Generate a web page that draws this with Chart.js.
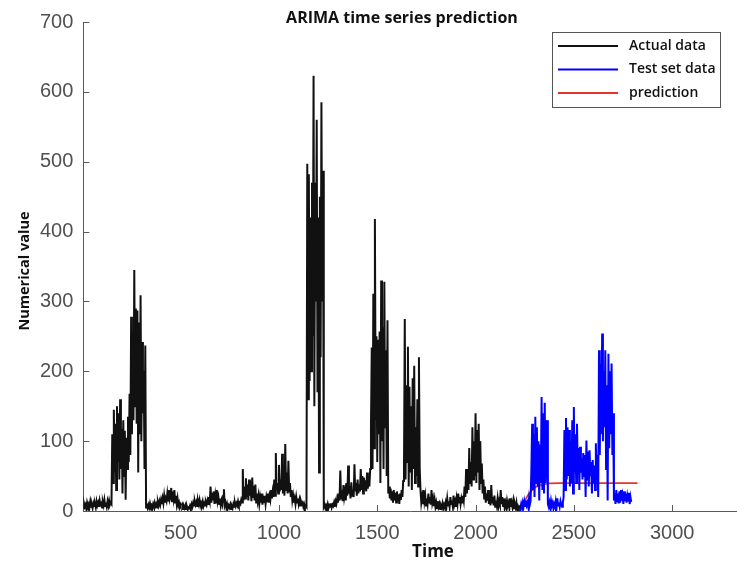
<!DOCTYPE html>
<html>
<head>
<meta charset="utf-8">
<script src="https://cdn.jsdelivr.net/npm/chart.js@4"></script>
<style>
  html, body { margin: 0; padding: 0; background: #fff; }
  #wrap { width: 737px; height: 563px; position: relative; }
</style>
</head>
<body>
<div id="wrap"><canvas id="chart"></canvas></div>
<script>
// ---------- DATA ----------
const TIME_STEP = 4;

// actual data, one value every 4 time units from 0 to 2224
const actualStart = 0;
const actualValues = [
  8, 4, 11, 6, 9, 3, 12, 7, 10, 5, 13, 6, 9, 4, 11, 7,
  10, 5, 14, 8, 12, 6, 15, 9, 11, 5, 13, 8, 16, 7, 12, 6,
  14, 8, 15, 9, 12, 10, 110, 40, 145, 55, 125, 30, 150, 70, 140, 45,
  160, 60, 118, 25, 130, 50, 115, 16, 105, 60, 135, 70, 168, 80, 278, 110,
  230, 130, 345, 150, 290, 125, 287, 55, 270, 110, 309, 100, 242, 140, 200, 60,
  237, 5, 8, 4, 9, 5, 11, 6, 8, 4, 10, 6, 12, 7, 10, 5,
  13, 8, 14, 9, 16, 10, 18, 11, 22, 12, 18, 14, 25, 15, 30, 16,
  20, 33, 14, 28, 18, 30, 12, 22, 10, 18, 8, 12, 6, 9, 4, 8,
  3, 7, 4, 8, 3, 6, 2, 5, 4, 8, 5, 10, 6, 12, 8, 14,
  9, 13, 7, 15, 10, 16, 8, 12, 9, 14, 7, 11, 8, 13, 9, 15,
  10, 20, 14, 35, 12, 26, 15, 28, 10, 22, 12, 30, 14, 20, 10, 18,
  8, 15, 10, 22, 31, 8, 12, 5, 10, 4, 8, 5, 9, 3, 7, 4,
  10, 6, 12, 7, 11, 8, 14, 9, 12, 10, 16, 12, 60, 15, 35, 18,
  47, 20, 38, 15, 45, 22, 30, 14, 48, 20, 36, 15, 38, 12, 25, 14,
  22, 10, 20, 12, 25, 9, 18, 13, 22, 10, 20, 14, 25, 12, 22, 16,
  30, 18, 28, 20, 45, 22, 83, 30, 40, 25, 66, 28, 45, 30, 82, 25,
  50, 22, 96, 30, 55, 25, 72, 28, 40, 20, 30, 15, 22, 12, 18, 10,
  20, 12, 18, 10, 16, 8, 14, 10, 12, 6, 10, 5, 8, 6, 497, 160,
  482, 186, 420, 200, 470, 250, 623, 150, 470, 300, 560, 170, 420, 55, 450, 220,
  585, 300, 487, 6, 9, 4, 8, 5, 10, 4, 8, 6, 11, 5, 9, 7,
  12, 6, 14, 10, 18, 12, 25, 15, 58, 18, 30, 14, 37, 20, 28, 15,
  40, 22, 65, 25, 35, 18, 41, 22, 30, 20, 67, 28, 40, 22, 45, 25,
  38, 28, 60, 30, 50, 25, 48, 30, 44, 28, 55, 32, 50, 35, 60, 120,
  234, 60, 311, 90, 418, 130, 250, 70, 245, 110, 257, 40, 330, 100, 263, 60,
  328, 120, 230, 50, 273, 25, 35, 18, 32, 15, 28, 12, 30, 15, 26, 12,
  28, 14, 24, 10, 25, 16, 30, 20, 43, 60, 275, 45, 180, 70, 235, 35,
  178, 55, 150, 30, 190, 60, 208, 40, 120, 50, 160, 35, 220, 60, 30, 12,
  20, 10, 30, 14, 22, 8, 18, 10, 25, 12, 20, 9, 30, 12, 18, 7,
  16, 6, 12, 4, 14, 6, 10, 3, 8, 5, 11, 4, 9, 5, 12, 6,
  18, 8, 14, 6, 20, 10, 15, 7, 22, 9, 14, 6, 18, 10, 25, 12,
  20, 10, 18, 12, 22, 15, 35, 20, 60, 25, 45, 30, 90, 40, 70, 35,
  120, 45, 100, 50, 140, 40, 116, 55, 125, 30, 100, 40, 68, 25, 45, 18,
  35, 12, 25, 15, 30, 10, 22, 8, 37, 12, 20, 8, 22, 6, 15, 8,
  18, 6, 14, 9, 30, 10, 20, 7, 18, 5, 12, 6, 15, 8, 12, 4,
  18, 6, 12, 5, 14, 4, 10, 5, 12, 3, 7, 4, 8
];

// test set data, one value every 4 time units from 2224 to 2792
const testStart = 2224;
const testValues = [
  8, 4, 10, 5, 12, 6, 14, 7, 15, 8, 12, 6, 18, 9, 14, 60,
  125, 30, 110, 20, 135, 40, 120, 35, 100, 15, 95, 40, 163, 30, 140, 25,
  155, 40, 120, 130, 10, 6, 12, 5, 15, 8, 12, 4, 10, 6, 14, 5,
  18, 8, 12, 6, 14, 9, 6, 12, 20, 116, 30, 133, 45, 120, 50, 116,
  35, 100, 40, 130, 25, 149, 55, 110, 40, 125, 60, 90, 30, 92, 55, 75,
  45, 83, 50, 80, 20, 101, 45, 85, 35, 87, 50, 70, 25, 73, 40, 65,
  30, 97, 45, 80, 20, 230, 80, 210, 110, 254, 100, 200, 120, 230, 60, 180,
  15, 225, 90, 200, 110, 211, 80, 140, 15, 25, 10, 30, 14, 25, 11, 28,
  12, 30, 15, 22, 10, 28, 14, 25, 12, 22, 15, 26, 10, 20, 13
];

// ARIMA prediction
const predTime = [2224, 2240, 2256, 2272, 2288, 2304, 2320, 2344, 2376, 2424, 2500, 2600, 2700, 2824];
const predValues = [0, 8, 17, 25, 30, 34, 36, 38, 39.5, 40, 40, 40, 40, 40];

const seriesNames = ["Actual data", "Test set data", "prediction"];
const xTicks = [500, 1000, 1500, 2000, 2500, 3000];
const yTicks = [0, 100, 200, 300, 400, 500, 600, 700];

// ---------- COLORS ----------
const COLORS = {
  actual: "#111111",
  test: "#0000ff",
  pred: "#e8302c",
  axis: "#5a5a5a",
  tickText: "#505050",
  text: "#111"
};

function toPoints(start, values) {
  return values.map((v, i) => ({ x: start + i * TIME_STEP, y: v }));
}

// ---------- DECORATIONS ----------
const decor = {
  id: "decor",
  afterDraw(chart) {
    const { ctx, chartArea: a, scales: { x, y } } = chart;
    ctx.save();

    // inward tick marks
    ctx.strokeStyle = COLORS.axis;
    ctx.lineWidth = 1;
    yTicks.forEach(v => {
      const py = Math.round(y.getPixelForValue(v)) + 0.5;
      ctx.beginPath();
      ctx.moveTo(a.left, py);
      ctx.lineTo(a.left + 6, py);
      ctx.stroke();
    });
    xTicks.forEach(v => {
      const px = Math.round(x.getPixelForValue(v)) + 0.5;
      ctx.beginPath();
      ctx.moveTo(px, a.bottom);
      ctx.lineTo(px, a.bottom - 6);
      ctx.stroke();
    });

    // titles
    ctx.fillStyle = COLORS.text;
    ctx.textAlign = "center";
    ctx.textBaseline = "middle";
    ctx.font = "bold 16px 'Open Sans'";
    ctx.fillText("ARIMA time series prediction", 402, 18);
    ctx.font = "bold 17px 'Open Sans'";
    ctx.fillText("Time", 433, 552);
    ctx.save();
    ctx.translate(25, 271);
    ctx.rotate(-Math.PI / 2);
    ctx.font = "bold 14.5px 'Open Sans'";
    ctx.fillText("Numerical value", 0, 0);
    ctx.restore();

    // legend box
    const bx = 552.5, by = 32.5, bw = 168, bh = 75;
    ctx.fillStyle = "#fff";
    ctx.fillRect(bx, by, bw, bh);
    ctx.strokeStyle = "#555";
    ctx.lineWidth = 1;
    ctx.strokeRect(bx, by, bw, bh);
    ctx.font = "600 14px 'Open Sans'";
    ctx.textAlign = "left";
    chart.data.datasets.forEach((ds, i) => {
      const ly = 46 + i * 23.5;
      ctx.strokeStyle = ds.borderColor;
      ctx.lineWidth = 2;
      ctx.beginPath();
      ctx.moveTo(558, ly);
      ctx.lineTo(618, ly);
      ctx.stroke();
      ctx.fillStyle = COLORS.text;
      ctx.fillText(ds.label, 629, ly);
    });

    ctx.restore();
  }
};

// ---------- CHART ----------
const lineStyle = { pointRadius: 0, borderWidth: 2, tension: 0, fill: false };

new Chart(document.getElementById("chart"), {
  type: "line",
  data: {
    datasets: [
      { label: seriesNames[0], data: toPoints(actualStart, actualValues), borderColor: COLORS.actual, ...lineStyle },
      { label: seriesNames[1], data: toPoints(testStart, testValues), borderColor: COLORS.test, ...lineStyle },
      {
        label: seriesNames[2],
        data: predTime.map((t, i) => ({ x: t, y: predValues[i] })),
        borderColor: COLORS.pred,
        ...lineStyle,
        borderWidth: 1.8,
        cubicInterpolationMode: "monotone"
      }
    ]
  },
  options: {
    animation: false,
    responsive: true,
    maintainAspectRatio: false,
    layout: { padding: { left: 30, top: 20, right: 0, bottom: 8 } },
    scales: {
      x: {
        type: "linear",
        min: 5,
        max: 3330,
        afterBuildTicks: s => { s.ticks = xTicks.map(v => ({ value: v })); },
        ticks: {
          color: COLORS.tickText,
          font: { family: "'Liberation Sans', Arial", size: 20 },
          padding: 10,
          maxRotation: 0,
          callback: v => String(v)
        },
        grid: { display: false, drawTicks: false },
        border: { display: true, color: COLORS.axis, width: 1 }
      },
      y: {
        min: 0,
        max: 700,
        afterBuildTicks: s => { s.ticks = yTicks.map(v => ({ value: v })); },
        ticks: {
          color: COLORS.tickText,
          font: { family: "'Liberation Sans', Arial", size: 20 },
          padding: 10,
          callback: v => String(v)
        },
        grid: { display: false, drawTicks: false },
        border: { display: true, color: COLORS.axis, width: 1 }
      }
    },
    plugins: {
      legend: { display: false },
      title: { display: false },
      tooltip: { enabled: false }
    }
  },
  plugins: [decor]
});
</script>
</body>
</html>
